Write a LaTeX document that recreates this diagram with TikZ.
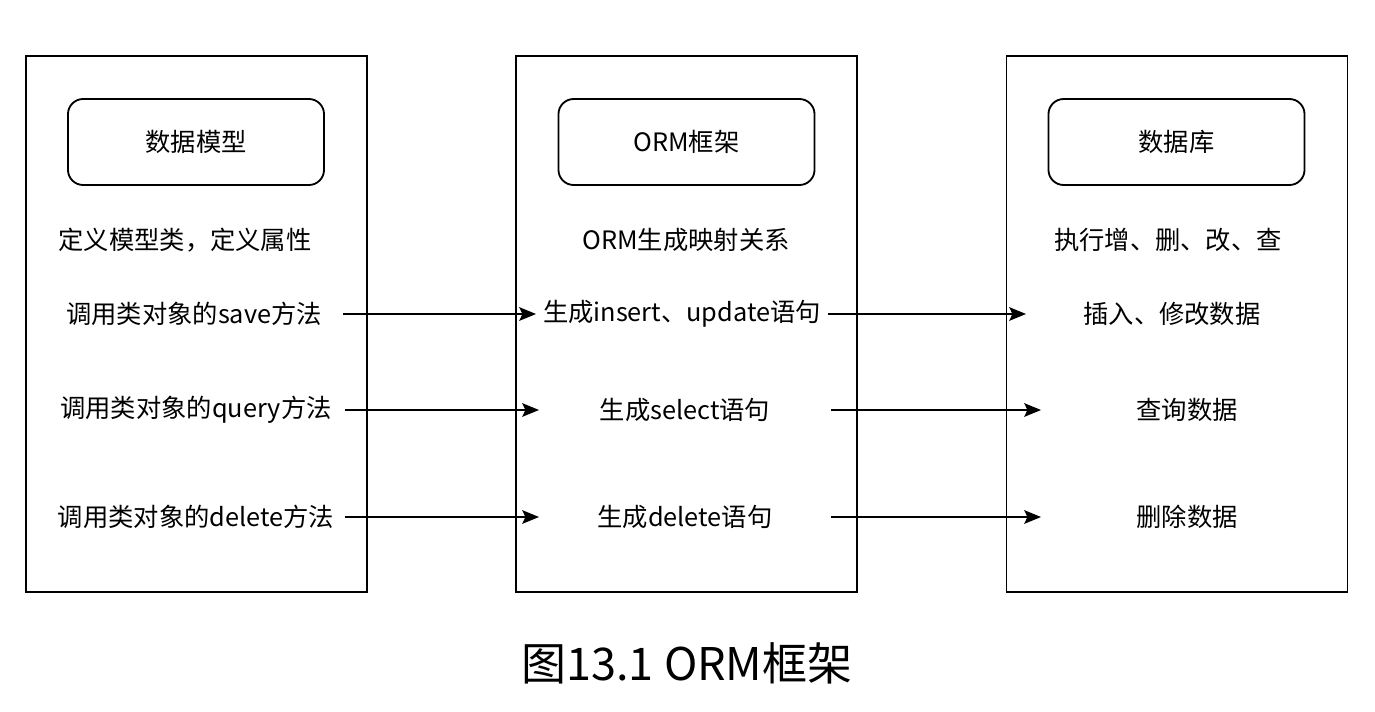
\documentclass[tikz,border=0pt]{standalone}
\usepackage{fontspec}
\setmainfont{Noto Sans CJK SC}
\usetikzlibrary{positioning,arrows.meta}

\begin{document}
\begin{tikzpicture}[x=0.025cm,y=-0.025cm,line width=1.3pt,
  panel/.style={rectangle,draw,minimum width=8.525cm,minimum height=13.4cm},
  titlebox/.style={rectangle,draw,rounded corners=0.38cm,minimum width=6.4cm,minimum height=2.15cm,font=\fontsize{18}{22}\selectfont},
  lbl/.style={inner sep=0pt,minimum width=7.25cm,font=\fontsize{18}{22}\selectfont},
  flow/.style={-{Stealth[length=0.42cm,width=0.34cm,inset=0.08cm]}}]
\useasboundingbox (0,0) rectangle (1375,711);
% three panels
\node[panel] (modelpanel) at (196.5,324) {};
\node[panel] (ormpanel) at (686.5,324) {};
\node[panel] (dbpanel) at (1177,324) {};
\node[titlebox] (modeltitle) at (196,142) {数据模型};
\node[titlebox] (ormtitle) at (686.5,142) {ORM框架};
\node[titlebox] (dbtitle) at (1176.5,142) {数据库};
\node[lbl] (modeldesc) at (185,240) {定义模型类，定义属性};
\node[lbl] (ormdesc) at (686,240) {ORM生成映射关系};
\node[lbl] (dbdesc) at (1168,240) {执行增、删、改、查};
% save
\node[lbl,minimum width=7.4cm] (save) at (194,314) {调用类对象的save方法};
\node[lbl] (insert) at (682,314) {生成insert、update语句};
\node[lbl] (insdata) at (1172,314) {插入、修改数据};
\draw[flow] (save) -- (insert);
\draw[flow] (insert) -- (insdata);
% query
\node[lbl,minimum width=7.4cm] (query) at (196,410) {调用类对象的query方法};
\node[lbl] (select) at (685,410) {生成select语句};
\node[lbl] (qrydata) at (1187,410) {查询数据};
\draw[flow] (query) -- (select);
\draw[flow] (select) -- (qrydata);
% delete
\node[lbl,minimum width=7.4cm] (delete) at (196,517) {调用类对象的delete方法};
\node[lbl] (delsql) at (685,517) {生成delete语句};
\node[lbl] (deldata) at (1187,517) {删除数据};
\draw[flow] (delete) -- (delsql);
\draw[flow] (delsql) -- (deldata);
\node[font=\fontsize{32}{38}\selectfont] (caption) at (687,663) {图13.1 ORM框架};
\end{tikzpicture}
\end{document}
